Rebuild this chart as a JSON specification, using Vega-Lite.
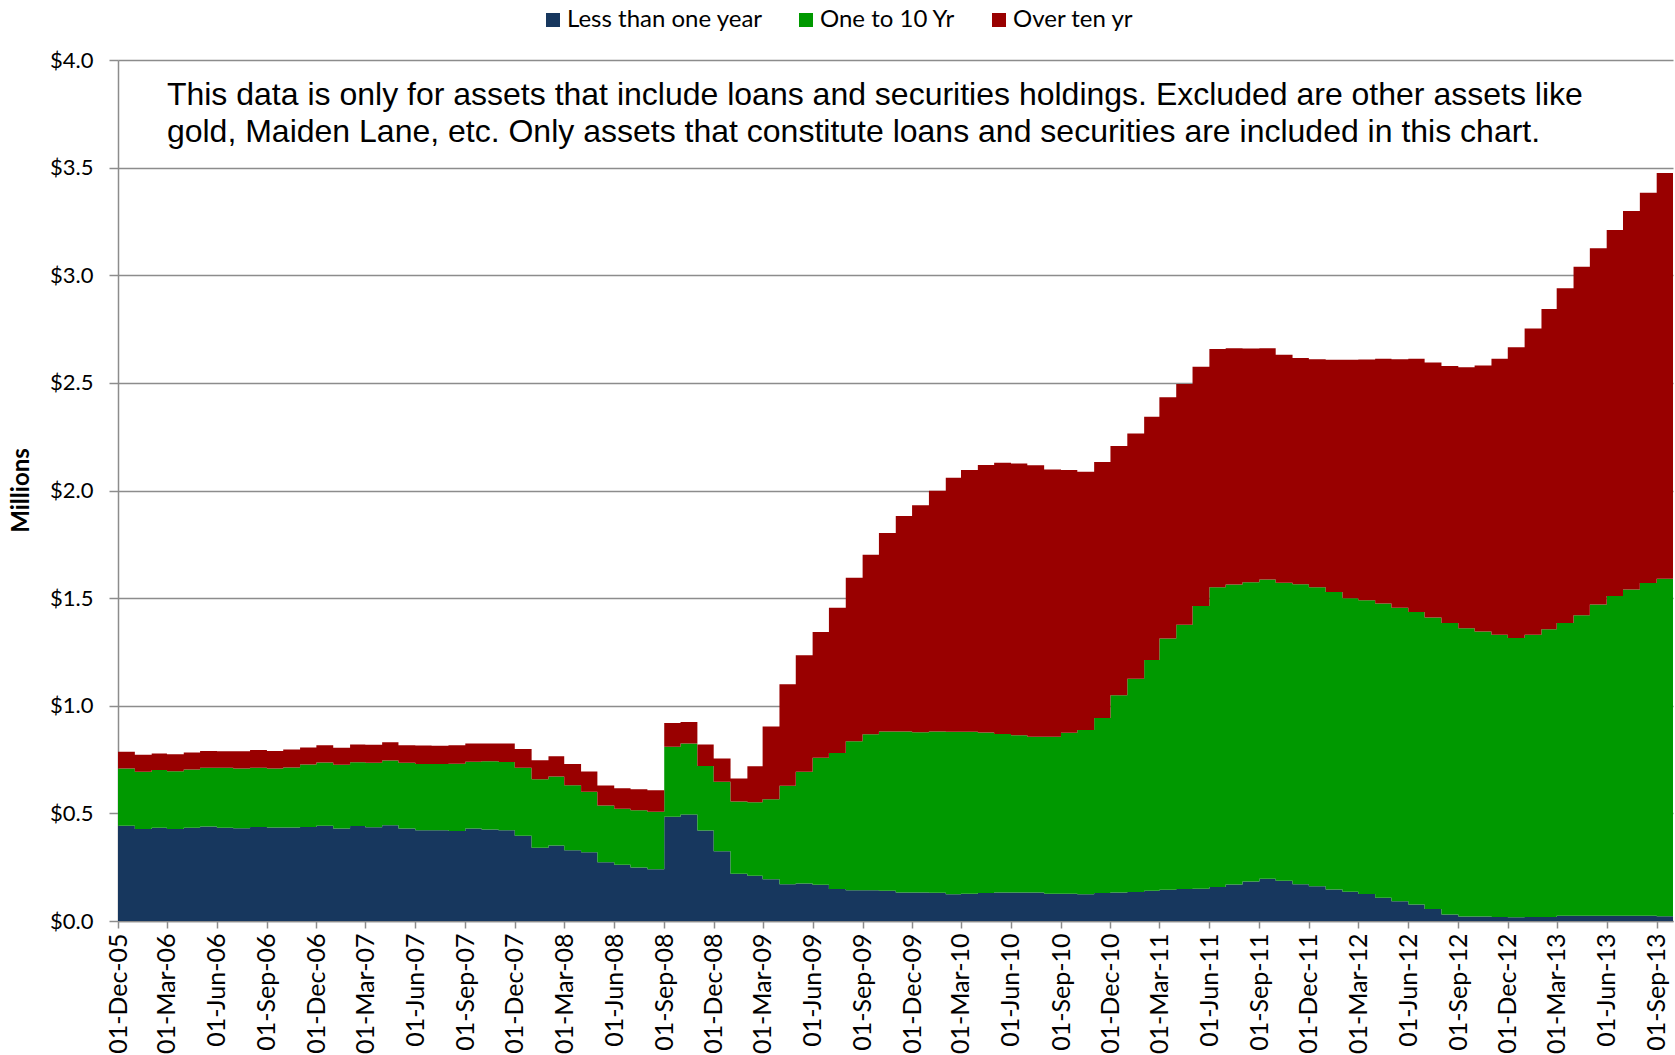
{
"$schema": "https://vega.github.io/schema/vega-lite/v6.json",
"width": 1555, "height": 861,
"autosize": {"type": "none"},
"padding": {"left": 118, "top": 60, "right": 2, "bottom": 134},
"background": "white",
"config": {"view": {"stroke": null}},
"datasets": {"assets": [
{"date":"2005/12/01","term":"Less than one year","value":0.442},{"date":"2005/12/01","term":"One to 10 Yr","value":0.267},{"date":"2005/12/01","term":"Over ten yr","value":0.077},
{"date":"2006/01/01","term":"Less than one year","value":0.427},{"date":"2006/01/01","term":"One to 10 Yr","value":0.266},{"date":"2006/01/01","term":"Over ten yr","value":0.079},
{"date":"2006/02/01","term":"Less than one year","value":0.433},{"date":"2006/02/01","term":"One to 10 Yr","value":0.268},{"date":"2006/02/01","term":"Over ten yr","value":0.077},
{"date":"2006/03/01","term":"Less than one year","value":0.427},{"date":"2006/03/01","term":"One to 10 Yr","value":0.269},{"date":"2006/03/01","term":"Over ten yr","value":0.079},
{"date":"2006/04/01","term":"Less than one year","value":0.433},{"date":"2006/04/01","term":"One to 10 Yr","value":0.271},{"date":"2006/04/01","term":"Over ten yr","value":0.079},
{"date":"2006/05/01","term":"Less than one year","value":0.439},{"date":"2006/05/01","term":"One to 10 Yr","value":0.273},{"date":"2006/05/01","term":"Over ten yr","value":0.078},
{"date":"2006/06/01","term":"Less than one year","value":0.433},{"date":"2006/06/01","term":"One to 10 Yr","value":0.279},{"date":"2006/06/01","term":"Over ten yr","value":0.077},
{"date":"2006/07/01","term":"Less than one year","value":0.431},{"date":"2006/07/01","term":"One to 10 Yr","value":0.278},{"date":"2006/07/01","term":"Over ten yr","value":0.080},
{"date":"2006/08/01","term":"Less than one year","value":0.437},{"date":"2006/08/01","term":"One to 10 Yr","value":0.275},{"date":"2006/08/01","term":"Over ten yr","value":0.082},
{"date":"2006/09/01","term":"Less than one year","value":0.434},{"date":"2006/09/01","term":"One to 10 Yr","value":0.275},{"date":"2006/09/01","term":"Over ten yr","value":0.081},
{"date":"2006/10/01","term":"Less than one year","value":0.434},{"date":"2006/10/01","term":"One to 10 Yr","value":0.279},{"date":"2006/10/01","term":"Over ten yr","value":0.084},
{"date":"2006/11/01","term":"Less than one year","value":0.437},{"date":"2006/11/01","term":"One to 10 Yr","value":0.290},{"date":"2006/11/01","term":"Over ten yr","value":0.079},
{"date":"2006/12/01","term":"Less than one year","value":0.442},{"date":"2006/12/01","term":"One to 10 Yr","value":0.294},{"date":"2006/12/01","term":"Over ten yr","value":0.080},
{"date":"2007/01/01","term":"Less than one year","value":0.430},{"date":"2007/01/01","term":"One to 10 Yr","value":0.296},{"date":"2007/01/01","term":"Over ten yr","value":0.079},
{"date":"2007/02/01","term":"Less than one year","value":0.441},{"date":"2007/02/01","term":"One to 10 Yr","value":0.296},{"date":"2007/02/01","term":"Over ten yr","value":0.083},
{"date":"2007/03/01","term":"Less than one year","value":0.436},{"date":"2007/03/01","term":"One to 10 Yr","value":0.299},{"date":"2007/03/01","term":"Over ten yr","value":0.084},
{"date":"2007/04/01","term":"Less than one year","value":0.445},{"date":"2007/04/01","term":"One to 10 Yr","value":0.301},{"date":"2007/04/01","term":"Over ten yr","value":0.084},
{"date":"2007/05/01","term":"Less than one year","value":0.430},{"date":"2007/05/01","term":"One to 10 Yr","value":0.305},{"date":"2007/05/01","term":"Over ten yr","value":0.082},
{"date":"2007/06/01","term":"Less than one year","value":0.422},{"date":"2007/06/01","term":"One to 10 Yr","value":0.307},{"date":"2007/06/01","term":"Over ten yr","value":0.086},
{"date":"2007/07/01","term":"Less than one year","value":0.422},{"date":"2007/07/01","term":"One to 10 Yr","value":0.307},{"date":"2007/07/01","term":"Over ten yr","value":0.085},
{"date":"2007/08/01","term":"Less than one year","value":0.418},{"date":"2007/08/01","term":"One to 10 Yr","value":0.313},{"date":"2007/08/01","term":"Over ten yr","value":0.086},
{"date":"2007/09/01","term":"Less than one year","value":0.430},{"date":"2007/09/01","term":"One to 10 Yr","value":0.310},{"date":"2007/09/01","term":"Over ten yr","value":0.085},
{"date":"2007/10/01","term":"Less than one year","value":0.425},{"date":"2007/10/01","term":"One to 10 Yr","value":0.317},{"date":"2007/10/01","term":"Over ten yr","value":0.083},
{"date":"2007/11/01","term":"Less than one year","value":0.422},{"date":"2007/11/01","term":"One to 10 Yr","value":0.317},{"date":"2007/11/01","term":"Over ten yr","value":0.086},
{"date":"2007/12/01","term":"Less than one year","value":0.396},{"date":"2007/12/01","term":"One to 10 Yr","value":0.316},{"date":"2007/12/01","term":"Over ten yr","value":0.087},
{"date":"2008/01/01","term":"Less than one year","value":0.340},{"date":"2008/01/01","term":"One to 10 Yr","value":0.319},{"date":"2008/01/01","term":"Over ten yr","value":0.088},
{"date":"2008/02/01","term":"Less than one year","value":0.351},{"date":"2008/02/01","term":"One to 10 Yr","value":0.320},{"date":"2008/02/01","term":"Over ten yr","value":0.094},
{"date":"2008/03/01","term":"Less than one year","value":0.329},{"date":"2008/03/01","term":"One to 10 Yr","value":0.302},{"date":"2008/03/01","term":"Over ten yr","value":0.098},
{"date":"2008/04/01","term":"Less than one year","value":0.319},{"date":"2008/04/01","term":"One to 10 Yr","value":0.281},{"date":"2008/04/01","term":"Over ten yr","value":0.095},
{"date":"2008/05/01","term":"Less than one year","value":0.273},{"date":"2008/05/01","term":"One to 10 Yr","value":0.264},{"date":"2008/05/01","term":"Over ten yr","value":0.092},
{"date":"2008/06/01","term":"Less than one year","value":0.261},{"date":"2008/06/01","term":"One to 10 Yr","value":0.261},{"date":"2008/06/01","term":"Over ten yr","value":0.095},
{"date":"2008/07/01","term":"Less than one year","value":0.249},{"date":"2008/07/01","term":"One to 10 Yr","value":0.266},{"date":"2008/07/01","term":"Over ten yr","value":0.097},
{"date":"2008/08/01","term":"Less than one year","value":0.241},{"date":"2008/08/01","term":"One to 10 Yr","value":0.266},{"date":"2008/08/01","term":"Over ten yr","value":0.101},
{"date":"2008/09/01","term":"Less than one year","value":0.484},{"date":"2008/09/01","term":"One to 10 Yr","value":0.325},{"date":"2008/09/01","term":"Over ten yr","value":0.111},
{"date":"2008/10/01","term":"Less than one year","value":0.495},{"date":"2008/10/01","term":"One to 10 Yr","value":0.330},{"date":"2008/10/01","term":"Over ten yr","value":0.100},
{"date":"2008/11/01","term":"Less than one year","value":0.420},{"date":"2008/11/01","term":"One to 10 Yr","value":0.300},{"date":"2008/11/01","term":"Over ten yr","value":0.100},
{"date":"2008/12/01","term":"Less than one year","value":0.324},{"date":"2008/12/01","term":"One to 10 Yr","value":0.323},{"date":"2008/12/01","term":"Over ten yr","value":0.108},
{"date":"2009/01/01","term":"Less than one year","value":0.220},{"date":"2009/01/01","term":"One to 10 Yr","value":0.335},{"date":"2009/01/01","term":"Over ten yr","value":0.107},
{"date":"2009/02/01","term":"Less than one year","value":0.210},{"date":"2009/02/01","term":"One to 10 Yr","value":0.342},{"date":"2009/02/01","term":"Over ten yr","value":0.167},
{"date":"2009/03/01","term":"Less than one year","value":0.194},{"date":"2009/03/01","term":"One to 10 Yr","value":0.372},{"date":"2009/03/01","term":"Over ten yr","value":0.338},
{"date":"2009/04/01","term":"Less than one year","value":0.171},{"date":"2009/04/01","term":"One to 10 Yr","value":0.457},{"date":"2009/04/01","term":"Over ten yr","value":0.472},
{"date":"2009/05/01","term":"Less than one year","value":0.174},{"date":"2009/05/01","term":"One to 10 Yr","value":0.519},{"date":"2009/05/01","term":"Over ten yr","value":0.542},
{"date":"2009/06/01","term":"Less than one year","value":0.168},{"date":"2009/06/01","term":"One to 10 Yr","value":0.590},{"date":"2009/06/01","term":"Over ten yr","value":0.585},
{"date":"2009/07/01","term":"Less than one year","value":0.149},{"date":"2009/07/01","term":"One to 10 Yr","value":0.631},{"date":"2009/07/01","term":"Over ten yr","value":0.675},
{"date":"2009/08/01","term":"Less than one year","value":0.143},{"date":"2009/08/01","term":"One to 10 Yr","value":0.692},{"date":"2009/08/01","term":"Over ten yr","value":0.760},
{"date":"2009/09/01","term":"Less than one year","value":0.143},{"date":"2009/09/01","term":"One to 10 Yr","value":0.725},{"date":"2009/09/01","term":"Over ten yr","value":0.833},
{"date":"2009/10/01","term":"Less than one year","value":0.140},{"date":"2009/10/01","term":"One to 10 Yr","value":0.740},{"date":"2009/10/01","term":"Over ten yr","value":0.922},
{"date":"2009/11/01","term":"Less than one year","value":0.132},{"date":"2009/11/01","term":"One to 10 Yr","value":0.748},{"date":"2009/11/01","term":"Over ten yr","value":1.001},
{"date":"2009/12/01","term":"Less than one year","value":0.132},{"date":"2009/12/01","term":"One to 10 Yr","value":0.745},{"date":"2009/12/01","term":"Over ten yr","value":1.055},
{"date":"2010/01/01","term":"Less than one year","value":0.131},{"date":"2010/01/01","term":"One to 10 Yr","value":0.749},{"date":"2010/01/01","term":"Over ten yr","value":1.119},
{"date":"2010/02/01","term":"Less than one year","value":0.124},{"date":"2010/02/01","term":"One to 10 Yr","value":0.755},{"date":"2010/02/01","term":"Over ten yr","value":1.180},
{"date":"2010/03/01","term":"Less than one year","value":0.127},{"date":"2010/03/01","term":"One to 10 Yr","value":0.752},{"date":"2010/03/01","term":"Over ten yr","value":1.216},
{"date":"2010/04/01","term":"Less than one year","value":0.130},{"date":"2010/04/01","term":"One to 10 Yr","value":0.746},{"date":"2010/04/01","term":"Over ten yr","value":1.242},
{"date":"2010/05/01","term":"Less than one year","value":0.132},{"date":"2010/05/01","term":"One to 10 Yr","value":0.737},{"date":"2010/05/01","term":"Over ten yr","value":1.260},
{"date":"2010/06/01","term":"Less than one year","value":0.132},{"date":"2010/06/01","term":"One to 10 Yr","value":0.731},{"date":"2010/06/01","term":"Over ten yr","value":1.263},
{"date":"2010/07/01","term":"Less than one year","value":0.132},{"date":"2010/07/01","term":"One to 10 Yr","value":0.724},{"date":"2010/07/01","term":"Over ten yr","value":1.261},
{"date":"2010/08/01","term":"Less than one year","value":0.127},{"date":"2010/08/01","term":"One to 10 Yr","value":0.729},{"date":"2010/08/01","term":"Over ten yr","value":1.241},
{"date":"2010/09/01","term":"Less than one year","value":0.127},{"date":"2010/09/01","term":"One to 10 Yr","value":0.747},{"date":"2010/09/01","term":"Over ten yr","value":1.221},
{"date":"2010/10/01","term":"Less than one year","value":0.124},{"date":"2010/10/01","term":"One to 10 Yr","value":0.763},{"date":"2010/10/01","term":"Over ten yr","value":1.200},
{"date":"2010/11/01","term":"Less than one year","value":0.130},{"date":"2010/11/01","term":"One to 10 Yr","value":0.813},{"date":"2010/11/01","term":"Over ten yr","value":1.189},
{"date":"2010/12/01","term":"Less than one year","value":0.132},{"date":"2010/12/01","term":"One to 10 Yr","value":0.917},{"date":"2010/12/01","term":"Over ten yr","value":1.158},
{"date":"2011/01/01","term":"Less than one year","value":0.135},{"date":"2011/01/01","term":"One to 10 Yr","value":0.990},{"date":"2011/01/01","term":"Over ten yr","value":1.140},
{"date":"2011/02/01","term":"Less than one year","value":0.141},{"date":"2011/02/01","term":"One to 10 Yr","value":1.072},{"date":"2011/02/01","term":"Over ten yr","value":1.130},
{"date":"2011/03/01","term":"Less than one year","value":0.145},{"date":"2011/03/01","term":"One to 10 Yr","value":1.167},{"date":"2011/03/01","term":"Over ten yr","value":1.121},
{"date":"2011/04/01","term":"Less than one year","value":0.149},{"date":"2011/04/01","term":"One to 10 Yr","value":1.227},{"date":"2011/04/01","term":"Over ten yr","value":1.119},
{"date":"2011/05/01","term":"Less than one year","value":0.150},{"date":"2011/05/01","term":"One to 10 Yr","value":1.313},{"date":"2011/05/01","term":"Over ten yr","value":1.112},
{"date":"2011/06/01","term":"Less than one year","value":0.158},{"date":"2011/06/01","term":"One to 10 Yr","value":1.392},{"date":"2011/06/01","term":"Over ten yr","value":1.107},
{"date":"2011/07/01","term":"Less than one year","value":0.170},{"date":"2011/07/01","term":"One to 10 Yr","value":1.393},{"date":"2011/07/01","term":"Over ten yr","value":1.098},
{"date":"2011/08/01","term":"Less than one year","value":0.184},{"date":"2011/08/01","term":"One to 10 Yr","value":1.390},{"date":"2011/08/01","term":"Over ten yr","value":1.086},
{"date":"2011/09/01","term":"Less than one year","value":0.196},{"date":"2011/09/01","term":"One to 10 Yr","value":1.390},{"date":"2011/09/01","term":"Over ten yr","value":1.075},
{"date":"2011/10/01","term":"Less than one year","value":0.187},{"date":"2011/10/01","term":"One to 10 Yr","value":1.385},{"date":"2011/10/01","term":"Over ten yr","value":1.059},
{"date":"2011/11/01","term":"Less than one year","value":0.171},{"date":"2011/11/01","term":"One to 10 Yr","value":1.393},{"date":"2011/11/01","term":"Over ten yr","value":1.052},
{"date":"2011/12/01","term":"Less than one year","value":0.161},{"date":"2011/12/01","term":"One to 10 Yr","value":1.390},{"date":"2011/12/01","term":"Over ten yr","value":1.059},
{"date":"2012/01/01","term":"Less than one year","value":0.146},{"date":"2012/01/01","term":"One to 10 Yr","value":1.382},{"date":"2012/01/01","term":"Over ten yr","value":1.079},
{"date":"2012/02/01","term":"Less than one year","value":0.136},{"date":"2012/02/01","term":"One to 10 Yr","value":1.364},{"date":"2012/02/01","term":"Over ten yr","value":1.107},
{"date":"2012/03/01","term":"Less than one year","value":0.125},{"date":"2012/03/01","term":"One to 10 Yr","value":1.365},{"date":"2012/03/01","term":"Over ten yr","value":1.119},
{"date":"2012/04/01","term":"Less than one year","value":0.108},{"date":"2012/04/01","term":"One to 10 Yr","value":1.367},{"date":"2012/04/01","term":"Over ten yr","value":1.137},
{"date":"2012/05/01","term":"Less than one year","value":0.092},{"date":"2012/05/01","term":"One to 10 Yr","value":1.363},{"date":"2012/05/01","term":"Over ten yr","value":1.155},
{"date":"2012/06/01","term":"Less than one year","value":0.077},{"date":"2012/06/01","term":"One to 10 Yr","value":1.358},{"date":"2012/06/01","term":"Over ten yr","value":1.177},
{"date":"2012/07/01","term":"Less than one year","value":0.056},{"date":"2012/07/01","term":"One to 10 Yr","value":1.354},{"date":"2012/07/01","term":"Over ten yr","value":1.185},
{"date":"2012/08/01","term":"Less than one year","value":0.030},{"date":"2012/08/01","term":"One to 10 Yr","value":1.355},{"date":"2012/08/01","term":"Over ten yr","value":1.193},
{"date":"2012/09/01","term":"Less than one year","value":0.021},{"date":"2012/09/01","term":"One to 10 Yr","value":1.339},{"date":"2012/09/01","term":"Over ten yr","value":1.213},
{"date":"2012/10/01","term":"Less than one year","value":0.021},{"date":"2012/10/01","term":"One to 10 Yr","value":1.324},{"date":"2012/10/01","term":"Over ten yr","value":1.236},
{"date":"2012/11/01","term":"Less than one year","value":0.019},{"date":"2012/11/01","term":"One to 10 Yr","value":1.311},{"date":"2012/11/01","term":"Over ten yr","value":1.282},
{"date":"2012/12/01","term":"Less than one year","value":0.018},{"date":"2012/12/01","term":"One to 10 Yr","value":1.297},{"date":"2012/12/01","term":"Over ten yr","value":1.350},
{"date":"2013/01/01","term":"Less than one year","value":0.019},{"date":"2013/01/01","term":"One to 10 Yr","value":1.311},{"date":"2013/01/01","term":"Over ten yr","value":1.423},
{"date":"2013/02/01","term":"Less than one year","value":0.019},{"date":"2013/02/01","term":"One to 10 Yr","value":1.336},{"date":"2013/02/01","term":"Over ten yr","value":1.488},
{"date":"2013/03/01","term":"Less than one year","value":0.024},{"date":"2013/03/01","term":"One to 10 Yr","value":1.361},{"date":"2013/03/01","term":"Over ten yr","value":1.555},
{"date":"2013/04/01","term":"Less than one year","value":0.024},{"date":"2013/04/01","term":"One to 10 Yr","value":1.396},{"date":"2013/04/01","term":"Over ten yr","value":1.619},
{"date":"2013/05/01","term":"Less than one year","value":0.024},{"date":"2013/05/01","term":"One to 10 Yr","value":1.446},{"date":"2013/05/01","term":"Over ten yr","value":1.655},
{"date":"2013/06/01","term":"Less than one year","value":0.024},{"date":"2013/06/01","term":"One to 10 Yr","value":1.486},{"date":"2013/06/01","term":"Over ten yr","value":1.700},
{"date":"2013/07/01","term":"Less than one year","value":0.024},{"date":"2013/07/01","term":"One to 10 Yr","value":1.516},{"date":"2013/07/01","term":"Over ten yr","value":1.758},
{"date":"2013/08/01","term":"Less than one year","value":0.024},{"date":"2013/08/01","term":"One to 10 Yr","value":1.546},{"date":"2013/08/01","term":"Over ten yr","value":1.813},
{"date":"2013/09/01","term":"Less than one year","value":0.022},{"date":"2013/09/01","term":"One to 10 Yr","value":1.568},{"date":"2013/09/01","term":"Over ten yr","value":1.885},
{"date":"2013/10/01","term":"Less than one year","value":0.022},{"date":"2013/10/01","term":"One to 10 Yr","value":1.578},{"date":"2013/10/01","term":"Over ten yr","value":1.960}
]},
"layer": [
{
"data": {"name": "assets"},
"mark": {"type": "area", "interpolate": "step-after"},
"encoding": {
"x": {"field": "date", "type": "temporal",
"scale": {"domain": [{"year":2005,"month":12,"date":1},{"year":2013,"month":10,"date":1}]},
"axis": {"title": null, "format": "%d-%b-%y", "labelAngle": -90, "labelFontSize": 25, "labelFont": "Lato", "labelColor": "black",
"labelOverlap": false, "labelFlush": false, "labelBound": false, "labelPadding": 5,
"tickColor": "#8c8c8c", "tickSize": 7, "tickWidth": 1.5, "domainColor": "#8c8c8c", "domainWidth": 1.5, "grid": false,
"values": [
{"year":2005,"month":12,"date":1},{"year":2006,"month":3,"date":1},{"year":2006,"month":6,"date":1},{"year":2006,"month":9,"date":1},{"year":2006,"month":12,"date":1},
{"year":2007,"month":3,"date":1},{"year":2007,"month":6,"date":1},{"year":2007,"month":9,"date":1},{"year":2007,"month":12,"date":1},
{"year":2008,"month":3,"date":1},{"year":2008,"month":6,"date":1},{"year":2008,"month":9,"date":1},{"year":2008,"month":12,"date":1},
{"year":2009,"month":3,"date":1},{"year":2009,"month":6,"date":1},{"year":2009,"month":9,"date":1},{"year":2009,"month":12,"date":1},
{"year":2010,"month":3,"date":1},{"year":2010,"month":6,"date":1},{"year":2010,"month":9,"date":1},{"year":2010,"month":12,"date":1},
{"year":2011,"month":3,"date":1},{"year":2011,"month":6,"date":1},{"year":2011,"month":9,"date":1},{"year":2011,"month":12,"date":1},
{"year":2012,"month":3,"date":1},{"year":2012,"month":6,"date":1},{"year":2012,"month":9,"date":1},{"year":2012,"month":12,"date":1},
{"year":2013,"month":3,"date":1},{"year":2013,"month":6,"date":1},{"year":2013,"month":9,"date":1}
]}},
"y": {"field": "value", "type": "quantitative", "stack": "zero",
"scale": {"domain": [0, 4]},
"axis": {"title": "Millions", "titleFont": "Lato", "titleFontSize": 24, "titleFontWeight": "bold", "titleColor": "black",
"titleAngle": -90, "titleX": -97, "titleY": 430, "titleAlign": "center", "titleBaseline": "middle",
"values": [0, 0.5, 1, 1.5, 2, 2.5, 3, 3.5, 4], "format": "$.1f",
"labelFontSize": 22, "labelFont": "Lato", "labelColor": "black", "labelPadding": 16,
"tickColor": "#8c8c8c", "tickSize": 9, "tickWidth": 1.5, "domainColor": "#8c8c8c", "domainWidth": 1.5,
"gridColor": "#8c8c8c", "gridWidth": 1.5}},
"color": {"field": "term", "type": "nominal",
"scale": {"domain": ["Less than one year", "One to 10 Yr", "Over ten yr"], "range": ["#17375e", "#009900", "#990000"]},
"legend": {"orient": "none", "legendX": 423, "legendY": -52, "direction": "horizontal", "title": null,
"symbolType": "square", "symbolSize": 196, "symbolStrokeWidth": 0, "symbolOpacity": 1,
"labelFontSize": 24, "labelFont": "Lato", "labelColor": "black", "labelOffset": 2, "labelLimit": 0, "columnPadding": 31}},
"order": {"field": "term", "type": "nominal", "sort": "ascending"}
}
},
{
"data": {"values": [{}]},
"mark": {"type": "text", "align": "left", "baseline": "alphabetic", "font": "Liberation Sans, Arial, sans-serif", "fontSize": 32, "lineHeight": 37, "color": "black",
"text": ["This data is only for assets that include loans and securities holdings. Excluded are other assets like", "gold, Maiden Lane, etc. Only assets that constitute loans and securities are included in this chart."]},
"encoding": {
"x": {"datum": {"year":2006,"month":3,"date":1}, "type": "temporal"},
"y": {"datum": 3.79, "type": "quantitative"}
}
}
]
}
